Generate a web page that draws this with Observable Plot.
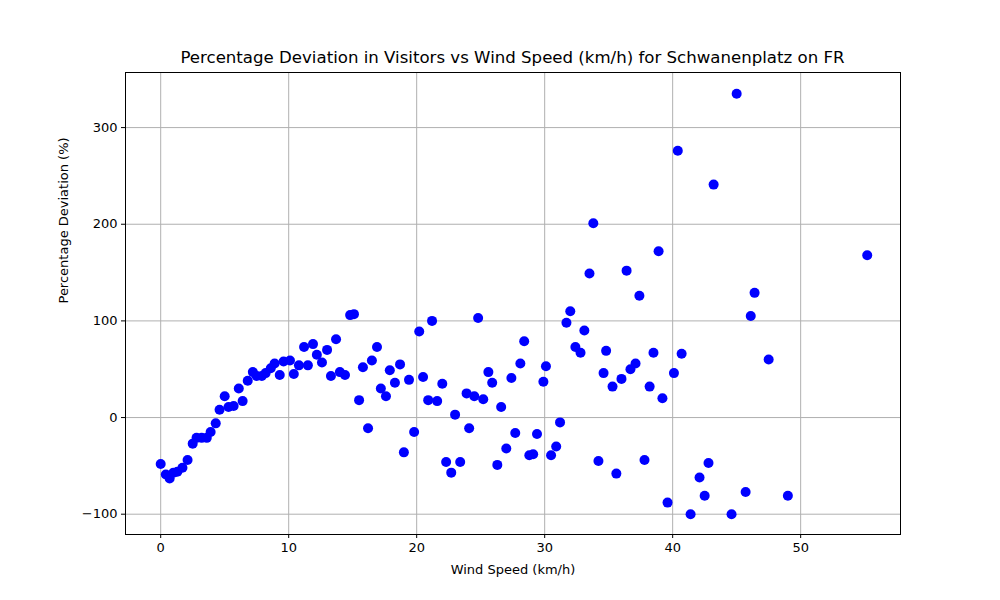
<!DOCTYPE html>
<html>
<head>
<meta charset="utf-8">
<script src="https://cdn.jsdelivr.net/npm/d3@7"></script>
<script src="https://cdn.jsdelivr.net/npm/@observablehq/plot@0.6"></script>
<style>
  body { margin: 0; background: #fff; font-family: "DejaVu Sans", sans-serif; }
  #titulo { width: 1000px; height: 70px; position: relative; }
  #titulo span { position: absolute; left: 125px; width: 775px; text-align: center; top: 48px; font-size: 16.6px; color: #000; }
  #grafico svg { display: block; }
</style>
</head>
<body>
<div id="titulo"><span>Percentage Deviation in Visitors vs Wind Speed (km/h) for Schwanenplatz on FR</span></div>
<div id="grafico"></div>
<script>
// valores
const viento = [0,0.4,0.7,1,1.3,1.7,2.1,2.5,2.8,3.2,3.6,3.9,4.3,4.6,5,5.3,5.7,6.1,6.4,6.8,7.2,7.5,7.9,8.2,8.6,8.9,9.3,9.6,10.1,10.4,10.8,11.2,11.5,11.9,12.2,12.6,13,13.3,13.7,14,14.4,14.8,15.1,15.5,15.8,16.2,16.5,16.9,17.2,17.6,17.9,18.3,18.7,19,19.4,19.8,20.2,20.5,20.9,21.2,21.6,22,22.3,22.7,23,23.4,23.9,24.1,24.5,24.8,25.2,25.6,25.9,26.3,26.6,27,27.4,27.7,28.1,28.4,28.8,29.1,29.4,29.9,30.1,30.5,30.9,31.2,31.7,32,32.4,32.8,33.1,33.5,33.8,34.2,34.6,34.8,35.3,35.6,36,36.4,36.7,37.1,37.4,37.8,38.2,38.5,38.9,39.2,39.6,40.1,40.4,40.7,41.4,42.1,42.5,42.8,43.2,44.6,45,45.7,46.1,46.4,47.5,49,55.2];
const desviacion = [-48,-59,-63,-57,-56,-52,-44,-27,-21,-21,-21,-15,-6,8,22,11,12,30,17,38,47,43,43,46,51,56,44,58,59,45,54,73,54,76,65,57,70,43,81,47,44,106,107,18,52,-11,59,73,30,22,49,36,55,-36,39,-15,89,42,18,100,17,35,-46,-57,3,-46,25,-11,22,103,19,47,36,-49,11,-32,41,-16,56,79,-39,-38,-17,37,53,-39,-30,-5,98,110,73,67,90,149,201,-45,46,69,32,-58,40,152,50,56,126,-44,32,67,172,20,-88,46,276,66,-100,-62,-81,-47,241,-100,335,-77,105,129,60,-81,168];
const ticksX = [0,10,20,30,40,50];
const ticksY = [-100,0,100,200,300];

const datos = viento.map((v, i) => ({viento: v, desviacion: desviacion[i]}));

const chart = Plot.plot({
  width: 1000,
  height: 530,
  marginLeft: 125,
  marginRight: 100,
  marginTop: 2,
  marginBottom: 66,
  style: {fontFamily: "DejaVu Sans, sans-serif", fontSize: "13px", color: "#000"},
  x: {domain: [-2.75, 57.8], ticks: ticksX, label: null, tickSize: 4},
  y: {domain: [-121, 357], ticks: ticksY, label: null, tickSize: 4},
  marks: [
    Plot.gridX(ticksX, {stroke: "#b0b0b0", strokeOpacity: 1, strokeWidth: 1}),
    Plot.gridY(ticksY, {stroke: "#b0b0b0", strokeOpacity: 1, strokeWidth: 1}),
    Plot.dot(datos, {x: "viento", y: "desviacion", r: 5, fill: "#0000ff", stroke: null}),
    Plot.frame({stroke: "#000"}),
    Plot.axisX({ticks: ticksX, tickSize: 4, tickPadding: 4, label: null}),
    Plot.axisY({ticks: ticksY, tickSize: 4, tickPadding: 4, label: null}),
    Plot.text(["Wind Speed (km/h)"], {frameAnchor: "bottom", dy: 39, fontSize: 13}),
    Plot.text(["Percentage Deviation (%)"], {frameAnchor: "left", dx: -62, rotate: -90, fontSize: 13})
  ]
});

d3.select('#grafico').append(() => chart);
</script>
</body>
</html>
